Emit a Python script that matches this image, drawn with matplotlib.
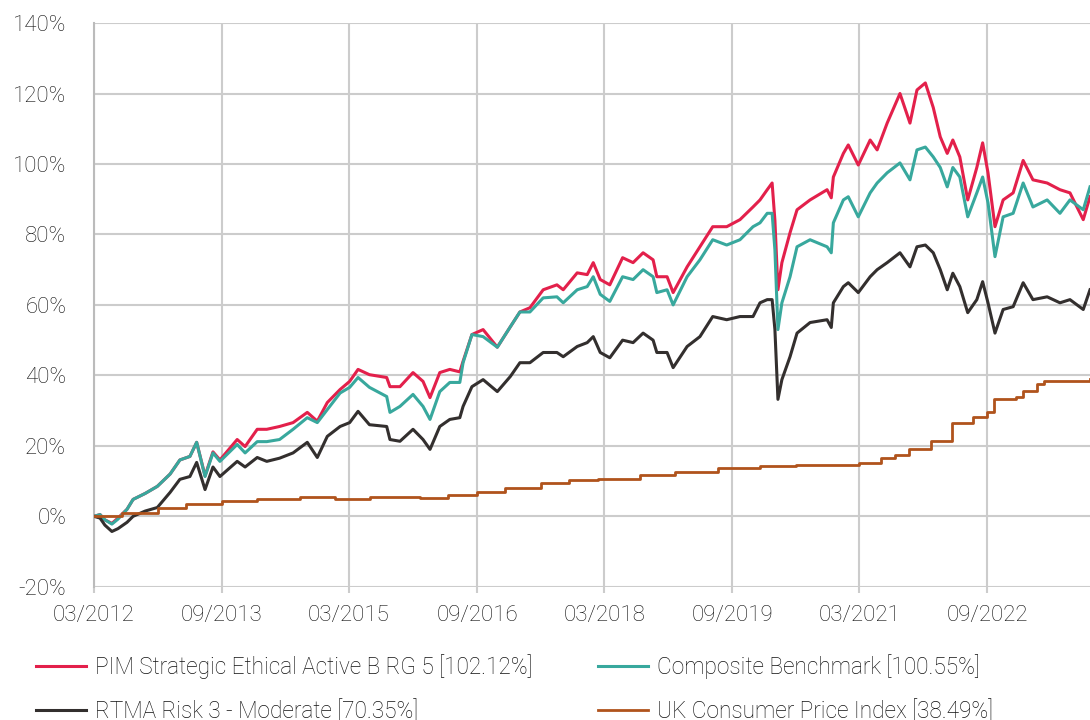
import matplotlib
matplotlib.use("Agg")
import matplotlib.pyplot as plt
import matplotlib.dates as mdates
import pandas as pd

plt.rcParams["font.family"] = ["Roboto", "DejaVu Sans"]
plt.rcParams["font.weight"] = "light"

# Fund / benchmark series (cumulative % growth)
dates = [
    "2012-03-01", "2012-03-27", "2012-04-17", "2012-05-17", "2012-06-12", "2012-07-21",
    "2012-08-16", "2012-10-07", "2012-11-28", "2013-01-22", "2013-03-05", "2013-04-17",
    "2013-05-16", "2013-06-21", "2013-07-25", "2013-08-24", "2013-11-06", "2013-12-10",
    "2014-01-31", "2014-03-13", "2014-05-07", "2014-07-04", "2014-09-03", "2014-10-16",
    "2014-11-28", "2015-01-22", "2015-03-04", "2015-04-09", "2015-05-28", "2015-08-10",
    "2015-08-24", "2015-10-06", "2015-12-01", "2016-01-13", "2016-02-12", "2016-03-25",
    "2016-05-07", "2016-06-19", "2016-07-03", "2016-08-10", "2016-09-27", "2016-11-27",
    "2017-01-22", "2017-03-04", "2017-04-16", "2017-06-12", "2017-08-10", "2017-09-06",
    "2017-11-05", "2017-12-18", "2018-01-13", "2018-02-12", "2018-03-25", "2018-05-19",
    "2018-07-03", "2018-08-15", "2018-09-27", "2018-10-13", "2018-11-26", "2018-12-22",
    "2019-02-20", "2019-04-16", "2019-06-10", "2019-08-09", "2019-10-05", "2019-11-30",
    "2019-12-30", "2020-01-30", "2020-02-20", "2020-03-03", "2020-03-16", "2020-04-02",
    "2020-05-07", "2020-06-06", "2020-08-01", "2020-10-13", "2020-10-31", "2020-11-09",
    "2020-12-22", "2021-01-12", "2021-02-24", "2021-04-16", "2021-05-16", "2021-06-28",
    "2021-08-22", "2021-10-04", "2021-11-03", "2021-12-09", "2022-01-12", "2022-02-11",
    "2022-03-13", "2022-04-06", "2022-05-06", "2022-06-09", "2022-07-18", "2022-08-12",
    "2022-09-04", "2022-10-04", "2022-11-08", "2022-12-21", "2023-02-02", "2023-03-16",
    "2023-05-16", "2023-07-10", "2023-08-22", "2023-10-18", "2023-11-16",
]
pim = [
    0, 0.5, -1, -2, -0.5, 2, 4.8, 6.5, 8.5, 12, 16, 17, 21, 11.5, 18.3, 16, 21.8, 19.8,
    24.7, 24.7, 25.5, 26.6, 29.5, 27, 32.3, 36, 38.3, 41.7, 40.2, 39.4, 36.8, 36.8, 40.8,
    38.3, 33.7, 40.8, 41.7, 41, 44, 51.6, 53, 48, 53.8, 58, 59.2, 64.3, 65.7, 64.3, 69.1,
    68.6, 72, 67.2, 65.7, 73.4, 72, 74.8, 72.8, 68, 68, 63.5, 70.8, 76.5, 82.2, 82.2, 84.2,
    87.8, 89.8, 92.7, 94.6, 84, 64.3, 72, 80.5, 87, 89.8, 92.7, 90.4, 96.3, 103, 105.4,
    99.7, 106.8, 104, 111.6, 120, 111.6, 121, 123, 116, 107.7, 103, 106.8, 102, 89.8, 99,
    106, 97.5, 82.2, 89.8, 91.8, 101, 95.5, 94.6, 92.7, 91.8, 84.2, 90.7,
]
composite = [
    0, 0.5, -1, -2.2, -0.8, 2, 4.8, 6.5, 8.5, 12, 16, 17, 21, 11.3, 18, 15.6, 20.4, 18,
    21.2, 21.2, 21.8, 24.7, 28, 26.6, 30.3, 35, 36.6, 39.4, 36.6, 34, 29.5, 31.2, 34.6,
    31.2, 27.5, 35.4, 38, 38, 43.6, 51.6, 51, 48, 53.8, 58, 58, 62, 62.3, 60.6, 64.3,
    65.2, 68, 63, 61, 68, 67.2, 70, 68, 63.5, 64.3, 60, 68, 72.8, 78.5, 77, 78.5,
    82.2, 83.3, 86, 86, 75.6, 53, 60.6, 68, 76.5, 78.5, 76.5, 74.8, 83.3, 89.8, 90.7,
    85, 91.8, 94.6, 97.5, 100.3, 95.5, 104, 104.8, 102, 99, 93.5, 99, 96.3, 85, 91.8,
    96.3, 89, 73.7, 85, 86, 94.6, 87.8, 89.8, 86, 89.8, 87, 93.5,
]
rtma = [
    0, -0.5, -2.5, -4.3, -3.5, -1.7, 0, 1.5, 2.5, 6.8, 10.5, 11.3, 15.3, 7.6, 14, 11.3,
    15.6, 14, 16.7, 15.6, 16.5, 18, 21, 16.7, 22.7, 25.5, 26.6, 29.8, 26, 25.5, 21.8, 21.3,
    24.7, 21.8, 19, 25.5, 27.5, 28, 31.2, 36.8, 38.8, 35.4, 39.7, 43.6, 43.6, 46.5, 46.5,
    45.3, 48.2, 49.3, 51, 46.5, 45, 50, 49.3, 52, 50, 46.5, 46.5, 42.2, 48.2, 51, 56.7,
    55.8, 56.7, 56.7, 60.6, 61.5, 61.5, 53, 33.2, 38.8, 45.3, 52, 55, 55.8, 53.6, 60.6,
    65.2, 66.3, 63.5, 68, 70, 72, 74.8, 70.8, 76.5, 77, 74.8, 70, 64.3, 69, 65.2, 57.8,
    61.5, 66.6, 60.6, 52, 58.7, 59.5, 66.3, 61.5, 62.3, 60.6, 61.5, 58.7, 64.3,
]

# UK CPI (monthly steps)
cpi_dates = [
    "2012-03-01", "2012-07-01", "2012-12-01", "2013-04-01", "2013-09-01", "2014-02-01",
    "2014-08-01", "2014-12-01", "2015-01-01", "2015-06-01", "2016-01-01", "2016-05-01",
    "2016-09-01", "2017-01-01", "2017-06-01", "2017-10-01", "2018-02-01", "2018-08-01",
    "2019-01-01", "2019-07-01", "2020-01-01", "2020-06-01", "2020-12-01", "2021-03-01",
    "2021-06-01", "2021-08-01", "2021-10-01", "2022-01-01", "2022-04-01", "2022-07-01",
    "2022-09-01", "2022-10-01", "2023-01-01", "2023-02-01", "2023-04-01", "2023-05-01",
    "2023-07-01", "2023-11-16",
]
cpi = [
    0, 1, 2.5, 3.5, 4.3, 4.8, 5.5, 5.5, 4.8, 5.5, 5.3, 6, 6.8, 8, 9.6, 10.2, 10.5, 11.8,
    12.5, 13.8, 14.2, 14.5, 14.7, 15, 16.5, 17.5, 19, 21.5, 26.6, 28.3, 29.5, 33.2, 34,
    35.5, 37.5, 38.3, 38.5, 39,
]

labels = [
    "PIM Strategic Ethical Active B RG 5 [102.12%]",
    "Composite Benchmark [100.55%]",
    "RTMA Risk 3 - Moderate [70.35%]",
    "UK Consumer Price Index [38.49%]",
]
colors = ["#e3204b", "#38a89d", "#332f2e", "#b0531c"]
tick_dates = ["2012-03-01", "2013-09-01", "2015-03-01", "2016-09-01",
              "2018-03-01", "2019-09-01", "2021-03-01", "2022-09-01"]

d = pd.to_datetime(dates)
dc = pd.to_datetime(cpi_dates)

fig = plt.figure(figsize=(10.9, 7.2), dpi=100)
ax = fig.add_axes([0.0862, 0.185, 0.9138, 0.783])

ax.axhline(0, color="black", lw=1.2, ls=(0, (7, 3, 1.5, 3)), zorder=1)
l1, = ax.plot(d, pim, color=colors[0], lw=2.2, zorder=3)
l2, = ax.plot(d, composite, color=colors[1], lw=2.2, zorder=4)
l3, = ax.plot(d, rtma, color=colors[2], lw=2.2, zorder=5)
l4, = ax.plot(dc, cpi, color=colors[3], lw=2.0, drawstyle="steps-post", zorder=6)

ax.set_ylim(-20, 140)
ax.set_yticks(range(-20, 141, 20))
ax.set_yticklabels([f"{v}%" for v in range(-20, 141, 20)])
ax.set_xlim(pd.Timestamp("2012-03-01"), pd.Timestamp("2023-11-16"))
ax.set_xticks(pd.to_datetime(tick_dates))
ax.xaxis.set_major_formatter(mdates.DateFormatter("%m/%Y"))

ax.grid(True, color="#cccccc", lw=1.5, zorder=0)
for s in ["top", "right", "bottom"]:
    ax.spines[s].set_visible(False)
ax.spines["left"].set_color("#bbbbbb")
ax.spines["left"].set_linewidth(1.5)
ax.tick_params(axis="y", length=0, pad=20, labelsize=16, labelcolor="#111111")
ax.tick_params(axis="x", length=4, color="#cccccc", width=1.5, pad=9, labelsize=16,
               labelcolor="#111111")

# legend filled row by row: PIM, Composite / RTMA, CPI
fig.legend([l1, l3, l2, l4], [labels[0], labels[2], labels[1], labels[3]],
           loc="upper left", bbox_to_anchor=(0.025, 0.104), ncol=2, frameon=False,
           fontsize=16.3, handlelength=2.2, handletextpad=0.4, columnspacing=2.9,
           labelspacing=0.9, borderaxespad=0, labelcolor="#111111")

fig.savefig("out.png", dpi=100)
